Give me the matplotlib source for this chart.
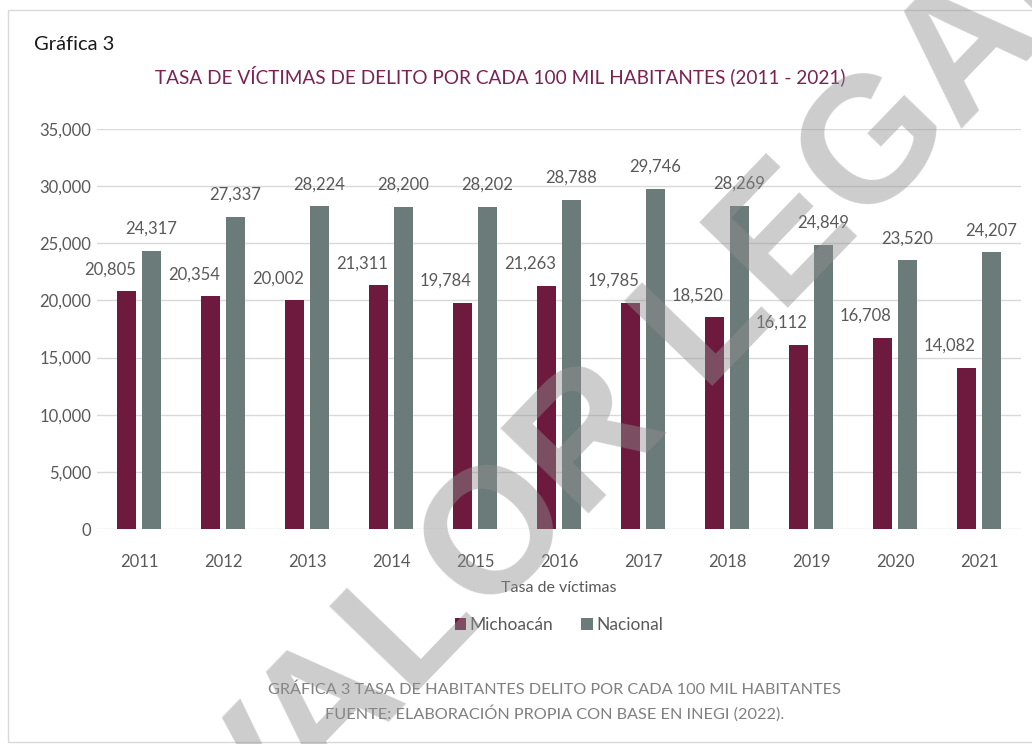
import numpy as np
import matplotlib
matplotlib.use("Agg")
import matplotlib.pyplot as plt
from matplotlib.patches import Rectangle

# Data
years = ["2011", "2012", "2013", "2014", "2015", "2016", "2017", "2018", "2019", "2020", "2021"]
michoacan = [20805, 20354, 20002, 21311, 19784, 21263, 19785, 18520, 16112, 16708, 14082]
nacional = [24317, 27337, 28224, 28200, 28202, 28788, 29746, 28269, 24849, 23520, 24207]
series_names = ["Michoacán", "Nacional"]

plt.rcParams['font.family'] = ['Lato', 'DejaVu Sans']

c_mich = "#6d1a3e"
c_nac = "#6b7b79"
c_text = "#595959"

fig = plt.figure(figsize=(10.32, 7.44), dpi=100)
ax = fig.add_axes([97 / 1032, 1 - 529 / 744, 924 / 1032, 400 / 744])

x = np.arange(len(years))
w = 0.226
off = 0.143
b1 = ax.bar(x - off, michoacan, w, color=c_mich, label=series_names[0], zorder=2)
b2 = ax.bar(x + off, nacional, w, color=c_nac, label=series_names[1], zorder=2)

# data labels (Michoacán labels sit a bit to the left, like the original)
for rect, v in zip(b1, michoacan):
    ax.annotate(f"{v:,}", (rect.get_x() + rect.get_width() / 2, v),
                xytext=(-17, 14), textcoords="offset pixels",
                ha="center", va="bottom", fontsize=12, color=c_text)
for rect, v in zip(b2, nacional):
    ax.annotate(f"{v:,}", (rect.get_x() + rect.get_width() / 2, v),
                xytext=(0, 14), textcoords="offset pixels",
                ha="center", va="bottom", fontsize=12, color=c_text)

ax.set_xlim(-0.5, len(years) - 0.5)
ax.set_ylim(0, 35000)
ax.set_yticks(np.arange(0, 35001, 5000))
ax.set_yticklabels([f"{t:,}" for t in range(0, 35001, 5000)])
ax.set_xticks(x)
ax.set_xticklabels(years)
ax.tick_params(length=0, labelsize=12, labelcolor=c_text)
ax.tick_params(axis="x", pad=18)
ax.tick_params(axis="y", pad=4)
ax.grid(axis="y", color="#d9d9d9", linewidth=1, zorder=0)
ax.set_axisbelow(True)
for s in ax.spines.values():
    s.set_visible(False)

ax.set_xlabel("Tasa de víctimas", fontsize=11.5, color=c_text, labelpad=8)

fig.legend(handles=[b1, b2], loc="center", bbox_to_anchor=(559 / 1032, 1 - 625 / 744),
           ncol=2, frameon=False, fontsize=12.5, labelcolor=c_text,
           handlelength=0.65, handleheight=0.65, handletextpad=0.2, columnspacing=1.6)

# titles and captions
fig.text(34 / 1032, 1 - 45 / 744, "Gráfica 3", fontsize=14.5, color="#1a1a1a",
         ha="left", va="center")
fig.text(500 / 1032, 1 - 76 / 744,
         "TASA DE VÍCTIMAS DE DELITO POR CADA 100 MIL HABITANTES (2011 - 2021)",
         fontsize=13.7, color="#7a2352", ha="center", va="center")
fig.text(555 / 1032, 1 - 690 / 744,
         "GRÁFICA 3 TASA DE HABITANTES DELITO POR CADA 100 MIL HABITANTES",
         fontsize=11.7, color="#808080", ha="center", va="center")
fig.text(555 / 1032, 1 - 713 / 744,
         "FUENTE: ELABORACIÓN PROPIA CON BASE EN INEGI (2022).",
         fontsize=11.7, color="#808080", ha="center", va="center")

# outer frame
fig.patches.append(Rectangle((8 / 1032, 1 - 742 / 744), 1.1, (742 - 10) / 744,
                             transform=fig.transFigure, fill=False,
                             edgecolor="#d9d9d9", linewidth=1))

# watermark
fig.text(652 / 1032, 1 - 382 / 744, "VALOR LEGAL", fontsize=128, fontweight="bold",
         family="Liberation Sans", color="#909090", alpha=0.45, rotation=46,
         ha="center", va="center", zorder=10)

fig.savefig("out.png", dpi=100)
